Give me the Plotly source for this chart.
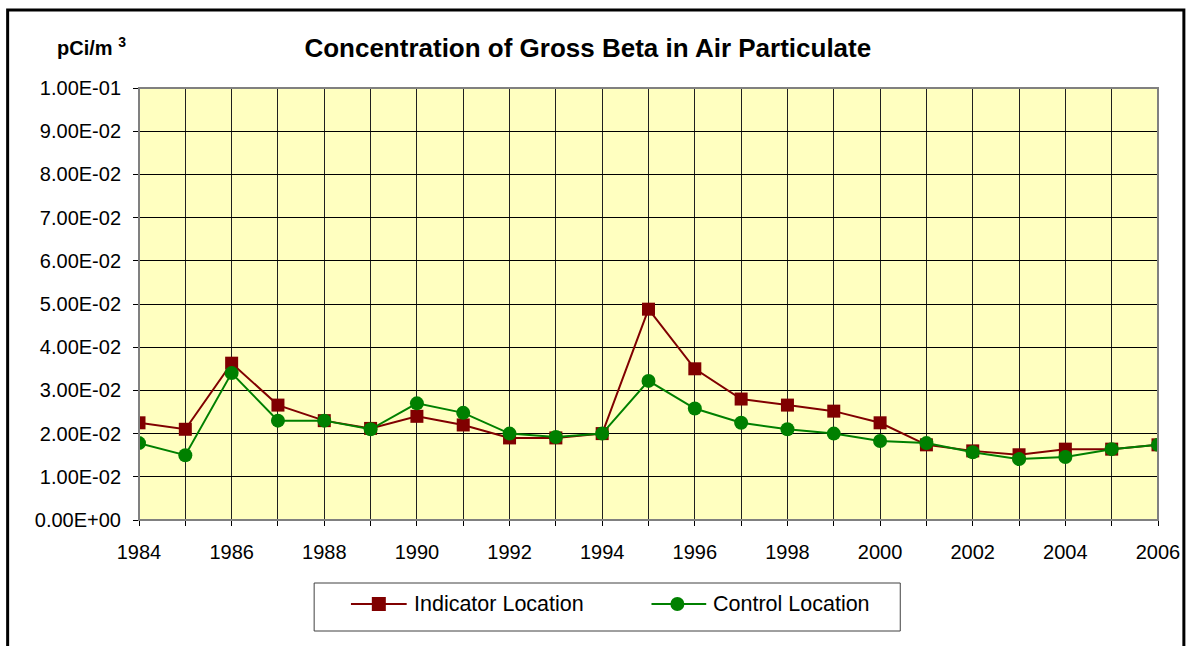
import plotly.graph_objects as go

years = list(range(1984, 2007))
indicator = [0.0225, 0.0210, 0.0363, 0.0266, 0.0230, 0.0212, 0.0240, 0.0220, 0.0190, 0.0190,
             0.0200, 0.0488, 0.0350, 0.0280, 0.0266, 0.0252, 0.0225, 0.0174, 0.0160, 0.0151,
             0.0164, 0.0164, 0.0174]
control = [0.0178, 0.0150, 0.0340, 0.0230, 0.0230, 0.0210, 0.0270, 0.0248, 0.0200, 0.0192,
           0.0200, 0.0322, 0.0258, 0.0225, 0.0210, 0.0200, 0.0183, 0.0178, 0.0157, 0.0141,
           0.0146, 0.0164, 0.0174]
series_names = ["Indicator Location", "Control Location"]
series_colors = ["#800000", "#008000"]
y_ticks = [i / 100 for i in range(0, 11)]
y_labels = [f"{v:.2E}" for v in y_ticks]
x_labels = [str(y) if y % 2 == 0 else "" for y in years]

W, H = 1192, 646
L, R, T, B = 139, 29, 88, 126
pw, ph = W - L - R, H - T - B


def px(x):
    return (x - L) / pw


def py(y):
    return (H - B - y) / ph


FONT = "Liberation Sans, Arial, sans-serif"

fig = go.Figure()
fig.add_trace(go.Scatter(x=years, y=indicator, name=series_names[0], mode="lines+markers",
                         line=dict(color=series_colors[0], width=2),
                         marker=dict(symbol="square", size=13, color=series_colors[0])))
fig.add_trace(go.Scatter(x=years, y=control, name=series_names[1], mode="lines+markers",
                         line=dict(color=series_colors[1], width=2),
                         marker=dict(symbol="circle", size=14, color=series_colors[1])))

# hand-drawn legend (line + marker + label) inside a framed box
leg_y = 604
leg_items = [(352, 408, 380, "rect"), (654, 709, 680, "circle")]
shapes = [
    dict(type="rect", xref="paper", yref="paper", x0=0, x1=1, y0=0, y1=1,
         line=dict(color="#808080", width=2), layer="above"),
    dict(type="rect", xref="paper", yref="paper", x0=px(315), x1=px(904),
         y0=py(631), y1=py(583), line=dict(color="#404040", width=1)),
    dict(type="rect", xref="paper", yref="paper", x0=px(7), x1=px(1189),
         y0=py(660), y1=py(10), line=dict(color="black", width=3)),
]
annotations = [
    dict(text="<b>pCi/m <sup>3</sup></b>", xref="paper", yref="paper",
         x=px(91), y=py(47), xanchor="center", yanchor="middle",
         showarrow=False, font=dict(size=20, family=FONT)),
]
for (xa, xb, xm, sym), name, col in zip(leg_items, series_names, series_colors):
    shapes.append(dict(type="line", xref="paper", yref="paper", x0=px(xa), x1=px(xb),
                       y0=py(leg_y), y1=py(leg_y), line=dict(color=col, width=2)))
    shapes.append(dict(type=sym, xref="paper", yref="paper",
                       xsizemode="pixel", ysizemode="pixel",
                       xanchor=px(xm), yanchor=py(leg_y), x0=-7, x1=7, y0=-7, y1=7,
                       fillcolor=col, line=dict(color=col, width=0)))
    annotations.append(dict(text=name, xref="paper", yref="paper",
                            x=px(xb + 5), y=py(leg_y), xanchor="left", yanchor="middle",
                            showarrow=False, font=dict(size=21.5, family=FONT)))

fig.update_layout(
    width=W, height=H,
    margin=dict(l=L, r=R, t=T, b=B),
    paper_bgcolor="white",
    plot_bgcolor="#FFFFC0",
    font=dict(family=FONT, size=20, color="black"),
    showlegend=False,
    title=dict(text="<b>Concentration of Gross Beta in Air Particulate</b>",
               x=px(590), xanchor="center", xref="paper", y=1 - 48 / H, yanchor="middle",
               font=dict(size=26, family=FONT)),
    xaxis=dict(range=[1984, 2006], tickmode="array", tickvals=years, ticktext=x_labels,
               showgrid=True, gridcolor="#202020", gridwidth=1,
               showline=True, linecolor="black", linewidth=1,
               ticks="outside", ticklen=5, tickcolor="black", ticklabelstandoff=9,
               zeroline=False, fixedrange=True),
    yaxis=dict(range=[0, 0.1], tickmode="array", tickvals=y_ticks, ticktext=y_labels,
               showgrid=True, gridcolor="black", gridwidth=1,
               showline=True, linecolor="black", linewidth=1,
               ticks="outside", ticklen=5, tickcolor="black", ticklabelstandoff=8,
               zeroline=False, fixedrange=True),
    shapes=shapes,
    annotations=annotations,
)
fig.write_html("out.html", config={"displayModeBar": False},
               post_script="document.body.style.margin='0';document.body.style.overflow='hidden';")
